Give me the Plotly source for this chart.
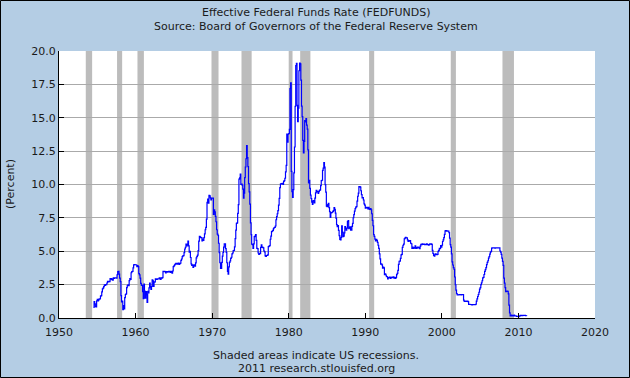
import plotly.graph_objects as go

# ---- data (monthly effective federal funds rate, %) ----
start_year = 1954
start_month = 7
rates_1954 = [0.80, 1.22, 1.06, 0.85, 0.83, 1.28]
rates_by_year = {
    1955: [1.39, 1.29, 1.35, 1.43, 1.43, 1.64, 1.68, 1.96, 2.18, 2.24, 2.35, 2.48],
    1956: [2.45, 2.50, 2.50, 2.62, 2.75, 2.71, 2.75, 2.73, 2.95, 2.96, 2.88, 2.94],
    1957: [2.84, 3.00, 2.96, 3.00, 3.00, 3.00, 2.99, 3.24, 3.47, 3.50, 3.28, 2.98],
    1958: [2.72, 1.67, 1.20, 1.26, 0.63, 0.93, 0.68, 1.53, 1.76, 1.80, 2.27, 2.42],
    1959: [2.48, 2.43, 2.80, 2.96, 2.90, 3.39, 3.47, 3.50, 3.76, 3.98, 4.00, 3.99],
    1960: [3.99, 3.97, 3.84, 3.92, 3.85, 3.32, 3.23, 2.98, 2.60, 2.47, 2.44, 1.98],
    1961: [1.45, 2.54, 2.02, 1.49, 1.98, 1.73, 1.17, 2.00, 1.88, 2.26, 2.61, 2.33],
    1962: [2.15, 2.37, 2.85, 2.78, 2.36, 2.68, 2.71, 2.93, 2.90, 2.90, 2.94, 2.93],
    1963: [2.92, 3.00, 2.98, 2.90, 3.00, 2.99, 3.02, 3.49, 3.48, 3.50, 3.48, 3.38],
    1964: [3.48, 3.48, 3.43, 3.47, 3.50, 3.50, 3.42, 3.50, 3.45, 3.36, 3.52, 3.85],
    1965: [3.90, 3.98, 4.04, 4.09, 4.10, 4.04, 4.09, 4.12, 4.01, 4.08, 4.10, 4.32],
    1966: [4.42, 4.60, 4.65, 4.67, 4.90, 5.17, 5.30, 5.53, 5.40, 5.53, 5.76, 5.40],
    1967: [4.94, 5.00, 4.53, 4.05, 3.94, 3.98, 3.79, 3.90, 3.99, 3.88, 4.13, 4.51],
    1968: [4.61, 4.71, 5.05, 5.76, 6.11, 6.07, 6.02, 6.03, 5.78, 5.91, 5.82, 6.02],
    1969: [6.30, 6.61, 6.79, 7.41, 8.67, 8.90, 8.61, 9.19, 9.15, 9.00, 8.85, 8.97],
    1970: [8.98, 8.98, 7.76, 8.10, 7.95, 7.61, 7.21, 6.61, 6.29, 6.20, 5.60, 4.90],
    1971: [4.14, 3.72, 3.71, 4.16, 4.63, 4.91, 5.31, 5.56, 5.55, 5.20, 4.91, 4.14],
    1972: [3.50, 3.29, 3.83, 4.17, 4.27, 4.46, 4.55, 4.80, 4.87, 5.04, 5.06, 5.33],
    1973: [5.94, 6.58, 7.09, 7.12, 7.84, 8.49, 10.40, 10.50, 10.78, 10.01, 10.03, 9.95],
    1974: [9.65, 8.97, 9.35, 10.51, 11.31, 11.93, 12.92, 12.01, 11.34, 10.06, 9.45, 8.53],
    1975: [7.13, 6.24, 5.54, 5.49, 5.22, 5.55, 6.10, 6.14, 6.24, 5.82, 5.22, 5.20],
    1976: [4.87, 4.77, 4.84, 4.82, 5.29, 5.48, 5.31, 5.29, 5.25, 5.02, 4.95, 4.65],
    1977: [4.61, 4.68, 4.69, 4.73, 5.35, 5.39, 5.42, 5.90, 6.14, 6.47, 6.51, 6.56],
    1978: [6.70, 6.78, 6.79, 6.89, 7.36, 7.60, 7.81, 8.04, 8.45, 8.96, 9.76, 10.03],
    1979: [10.07, 10.06, 10.09, 10.01, 10.24, 10.29, 10.47, 10.94, 11.43, 13.77, 13.18, 13.78],
    1980: [13.82, 14.13, 17.19, 17.61, 10.98, 9.47, 9.03, 9.61, 10.87, 12.81, 15.85, 18.90],
    1981: [19.08, 15.93, 14.70, 15.72, 18.52, 19.10, 19.04, 17.82, 15.87, 15.08, 13.31, 12.37],
    1982: [13.22, 14.78, 14.68, 14.94, 14.45, 14.15, 12.59, 10.12, 10.31, 9.71, 9.20, 8.95],
    1983: [8.68, 8.51, 8.77, 8.80, 8.63, 8.98, 9.37, 9.56, 9.45, 9.48, 9.34, 9.47],
    1984: [9.56, 9.59, 9.91, 10.29, 10.32, 11.06, 11.23, 11.64, 11.30, 9.99, 9.43, 8.38],
    1985: [8.35, 8.50, 8.58, 8.27, 7.97, 7.53, 7.88, 7.90, 7.92, 7.99, 8.05, 8.27],
    1986: [8.14, 7.86, 7.48, 6.99, 6.85, 6.92, 6.56, 6.17, 5.89, 5.85, 6.04, 6.91],
    1987: [6.43, 6.10, 6.13, 6.37, 6.85, 6.73, 6.58, 6.73, 7.22, 7.29, 6.69, 6.77],
    1988: [6.83, 6.58, 6.58, 6.87, 7.09, 7.51, 7.75, 8.01, 8.19, 8.30, 8.35, 8.76],
    1989: [9.12, 9.36, 9.85, 9.84, 9.81, 9.53, 9.24, 8.99, 9.02, 8.84, 8.55, 8.45],
    1990: [8.23, 8.24, 8.28, 8.26, 8.18, 8.29, 8.15, 8.13, 8.20, 8.11, 7.81, 7.31],
    1991: [6.91, 6.25, 6.12, 5.91, 5.78, 5.90, 5.82, 5.66, 5.45, 5.21, 4.81, 4.43],
    1992: [4.03, 4.06, 3.98, 3.73, 3.82, 3.76, 3.25, 3.30, 3.22, 3.10, 3.09, 2.92],
    1993: [3.02, 3.03, 3.07, 2.96, 3.00, 3.04, 3.06, 3.03, 3.09, 2.99, 3.02, 2.96],
    1994: [3.05, 3.25, 3.34, 3.56, 4.01, 4.25, 4.26, 4.47, 4.73, 4.76, 5.29, 5.45],
    1995: [5.53, 5.92, 5.98, 6.05, 6.01, 6.00, 5.85, 5.74, 5.80, 5.76, 5.80, 5.60],
    1996: [5.56, 5.22, 5.31, 5.22, 5.24, 5.27, 5.40, 5.22, 5.30, 5.24, 5.31, 5.29],
    1997: [5.25, 5.19, 5.39, 5.51, 5.50, 5.56, 5.52, 5.54, 5.54, 5.50, 5.52, 5.50],
    1998: [5.56, 5.51, 5.49, 5.45, 5.49, 5.56, 5.54, 5.55, 5.51, 5.07, 4.83, 4.68],
    1999: [4.63, 4.76, 4.81, 4.74, 4.74, 4.76, 4.99, 5.07, 5.22, 5.20, 5.42, 5.30],
    2000: [5.45, 5.73, 5.85, 6.02, 6.27, 6.53, 6.54, 6.50, 6.52, 6.51, 6.51, 6.40],
    2001: [5.98, 5.49, 5.31, 4.80, 4.21, 3.97, 3.77, 3.65, 3.07, 2.49, 2.09, 1.82],
    2002: [1.73, 1.74, 1.73, 1.75, 1.75, 1.75, 1.73, 1.74, 1.75, 1.75, 1.34, 1.24],
    2003: [1.24, 1.26, 1.25, 1.26, 1.26, 1.22, 1.01, 1.03, 1.01, 1.01, 1.00, 0.98],
    2004: [1.00, 1.01, 1.00, 1.00, 1.00, 1.03, 1.26, 1.43, 1.61, 1.76, 1.93, 2.16],
    2005: [2.28, 2.50, 2.63, 2.79, 3.00, 3.04, 3.26, 3.50, 3.62, 3.78, 4.00, 4.16],
    2006: [4.29, 4.49, 4.59, 4.79, 4.94, 4.99, 5.24, 5.25, 5.25, 5.25, 5.25, 5.24],
    2007: [5.25, 5.26, 5.26, 5.25, 5.25, 5.25, 5.26, 5.02, 4.94, 4.76, 4.49, 4.24],
    2008: [3.94, 2.98, 2.61, 2.28, 1.98, 2.00, 2.01, 2.00, 1.81, 0.97, 0.39, 0.16],
    2009: [0.15, 0.22, 0.18, 0.15, 0.18, 0.21, 0.16, 0.16, 0.15, 0.12, 0.12, 0.12],
    2010: [0.11, 0.13, 0.16, 0.20, 0.20, 0.18, 0.18, 0.19, 0.19, 0.19, 0.19, 0.18],
    2011: [0.17, 0.16],
}

recession_starts = ["1953-07-01", "1957-08-01", "1960-04-01", "1969-12-01", "1973-11-01",
                    "1980-01-01", "1981-07-01", "1990-07-01", "2001-03-01", "2007-12-01"]
recession_ends = ["1954-05-01", "1958-04-01", "1961-02-01", "1970-11-01", "1975-03-01",
                  "1980-07-01", "1982-11-01", "1991-03-01", "2001-11-01", "2009-06-01"]

x_ticks = [1950, 1960, 1970, 1980, 1990, 2000, 2010, 2020]
y_ticks = [0.0, 2.5, 5.0, 7.5, 10.0, 12.5, 15.0, 17.5, 20.0]

# ---- build series ----
dates, values = [], []
for i, v in enumerate(rates_1954):
    dates.append(f"{start_year}-{start_month + i:02d}-01")
    values.append(v)
for yr, vals in rates_by_year.items():
    for m, v in enumerate(vals):
        dates.append(f"{yr}-{m + 1:02d}-01")
        values.append(v)

BG = "#b4cde4"
FONT = "DejaVu Sans"
TXT = "#1a1a1a"

L, R, T, B = 59, 35, 51, 60
W, H = 630, 378
pw, ph = W - L - R, H - T - B

def px_x(px):
    return (px - L) / pw

def px_y(py):
    return (H - B - py) / ph

fig = go.Figure()
fig.add_trace(go.Scatter(x=dates, y=values, mode="lines",
                         line=dict(color="#0000ff", width=1.2, shape="hv"),
                         hoverinfo="x+y", showlegend=False))

shapes = []
for s, e in zip(recession_starts, recession_ends):
    shapes.append(dict(type="rect", xref="x", yref="paper", x0=s, x1=e, y0=0, y1=1,
                       fillcolor="#bcbcbc", line=dict(width=0), layer="between"))
# outer border of the image
shapes.append(dict(type="rect", xref="paper", yref="paper",
                   x0=px_x(0.5), x1=px_x(W - 0.5), y0=px_y(H - 0.5), y1=px_y(0.5),
                   line=dict(color="#000000", width=1), fillcolor="rgba(0,0,0,0)", layer="above"))

annotations = [
    dict(text="Effective Federal Funds Rate (FEDFUNDS)", x=px_x(316), y=px_y(12),
         xref="paper", yref="paper", showarrow=False, xanchor="center", yanchor="middle",
         font=dict(family=FONT, size=11, color=TXT)),
    dict(text="Source: Board of Governors of the Federal Reserve System", x=px_x(316), y=px_y(26),
         xref="paper", yref="paper", showarrow=False, xanchor="center", yanchor="middle",
         font=dict(family=FONT, size=11, color=TXT)),
    dict(text="Shaded areas indicate US recessions.", x=px_x(316), y=px_y(355),
         xref="paper", yref="paper", showarrow=False, xanchor="center", yanchor="middle",
         font=dict(family=FONT, size=11, color=TXT)),
    dict(text="2011 research.stlouisfed.org", x=px_x(316), y=px_y(368),
         xref="paper", yref="paper", showarrow=False, xanchor="center", yanchor="middle",
         font=dict(family=FONT, size=11, color=TXT)),
    dict(text="(Percent)", x=px_x(10), y=px_y(184), textangle=-90,
         xref="paper", yref="paper", showarrow=False, xanchor="center", yanchor="middle",
         font=dict(family=FONT, size=11, color=TXT)),
]

fig.update_layout(
    width=W, height=H,
    margin=dict(l=L, r=R, t=T, b=B),
    paper_bgcolor=BG, plot_bgcolor="#ffffff",
    shapes=shapes, annotations=annotations,
    font=dict(family=FONT, size=11, color=TXT),
    showlegend=False,
)
fig.update_xaxes(type="date", range=["1950-01-01", "2020-01-01"],
                 tickvals=[f"{y}-01-01" for y in x_ticks], ticktext=[str(y) for y in x_ticks],
                 showgrid=False, zeroline=False, showline=True, linecolor="#000000", linewidth=1,
                 ticks="inside", ticklen=5, tickcolor="#000000", ticklabelstandoff=4,
                 tickfont=dict(family=FONT, size=11, color=TXT))
fig.update_yaxes(range=[0, 20], tickvals=y_ticks, ticktext=[f"{v:.1f}" for v in y_ticks],
                 showgrid=True, gridcolor="#aaaaaa", gridwidth=1, zeroline=False,
                 showline=True, linecolor="#000000", linewidth=1,
                 ticks="inside", ticklen=5, tickcolor="#000000",
                 tickfont=dict(family=FONT, size=11, color=TXT))

fig.write_html("out.html", config={"displayModeBar": False},
               post_script="document.body.style.margin='0';document.body.style.overflow='hidden';")
